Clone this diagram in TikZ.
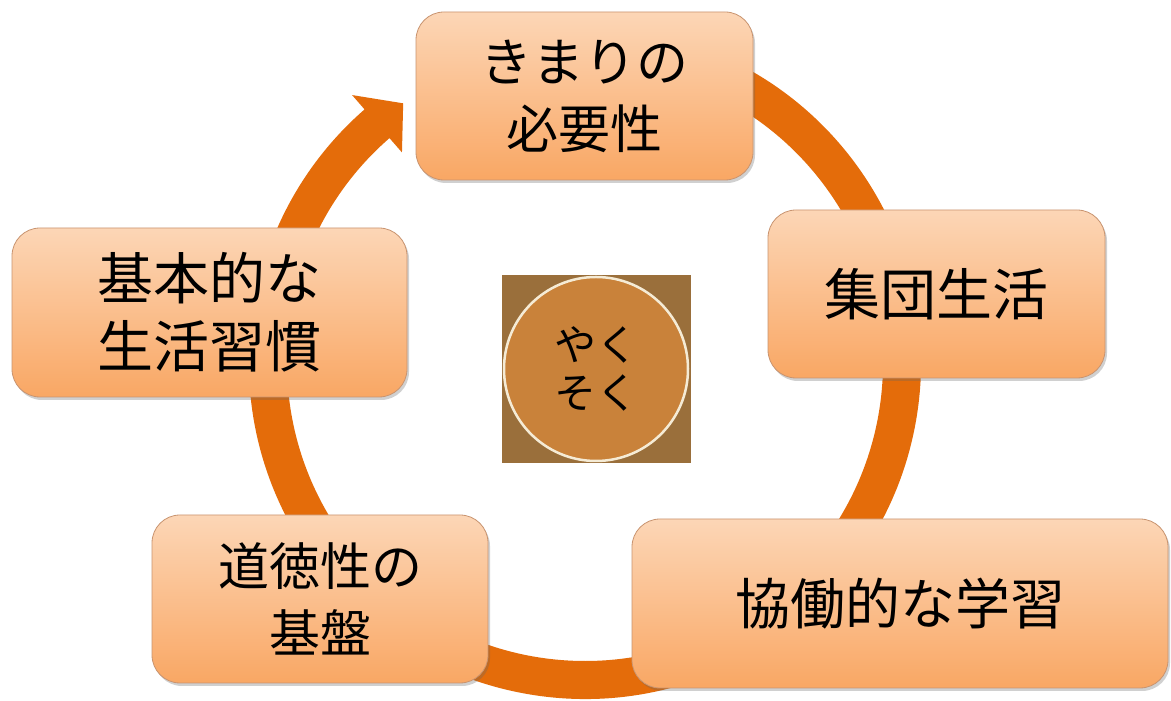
\documentclass[tikz,border=0pt]{standalone}
\usepackage{fontspec}
\newfontfamily\cjk{Noto Sans CJK JP}
\usetikzlibrary{shadows,calc}
\definecolor{ringorange}{HTML}{E46C0A}
\definecolor{boxtop}{HTML}{FCD6B6}
\definecolor{boxbot}{HTML}{F9A764}
\definecolor{boxline}{HTML}{C99470}
\definecolor{sqbrown}{HTML}{9A6F3B}
\definecolor{circfill}{HTML}{C9823A}
\definecolor{circline}{HTML}{F5EBD5}
\begin{document}
\begin{tikzpicture}[x=1pt,y=1pt,
  box/.style={rounded corners=28pt, top color=boxtop, bottom color=boxbot,
    draw=boxline, line width=0.8pt, align=center, text=black, inner sep=0pt,
    minimum height=168pt,
    drop shadow={shadow xshift=2pt, shadow yshift=-3pt, opacity=0.3, fill=black!60}},
  ringband/.style={fill=ringorange}
]
\useasboundingbox (0,0) rectangle (1171,701);
\fill[white] (0,0) rectangle (1171,701);
\coordinate (C) at (585,338);
% ring with arrowhead
\fill[ringband] ($(C)+(80:336)$) arc[start angle=80,end angle=-229,radius=336]
  -- ($(C)+(-229:355)$) -- ($(C)+(-235:317)$) -- ($(C)+(-229:279)$)
  -- ($(C)+(-229:298)$) arc[start angle=-229,end angle=80,radius=298] -- cycle;
% boxes
\node[box, minimum width=337pt, font={\cjk\fontsize{52pt}{67pt}\selectfont}] (top) at (584.5,605)
  {きまりの\\必要性};
\node[box, minimum width=337pt, font={\cjk\fontsize{56pt}{68pt}\selectfont}] (right) at (936.5,407)
  {集団生活};
\node[box, minimum width=536pt, minimum height=169pt, font={\cjk\fontsize{55pt}{68pt}\selectfont}] (botright) at (900,97.5)
  {協働的な学習};
\node[box, minimum width=336pt, font={\cjk\fontsize{51pt}{67pt}\selectfont}] (botleft) at (320,102)
  {道徳性の\\基盤};
\node[box, minimum width=395pt, minimum height=169pt, font={\cjk\fontsize{56pt}{68pt}\selectfont}] (left) at (209.5,388.5)
  {基本的な\\生活習慣};
% center
\node[fill=sqbrown, minimum width=189pt, minimum height=188pt, inner sep=0pt] (sq) at (596,332) {};
\node[circle, fill=circfill, draw=circline, line width=2.5pt, minimum size=184pt,
  inner sep=0pt, align=center, font={\cjk\fontsize{42pt}{48pt}\selectfont}] (promise) at (sq.center)
  {やく\\そく};
\end{tikzpicture}
\end{document}
